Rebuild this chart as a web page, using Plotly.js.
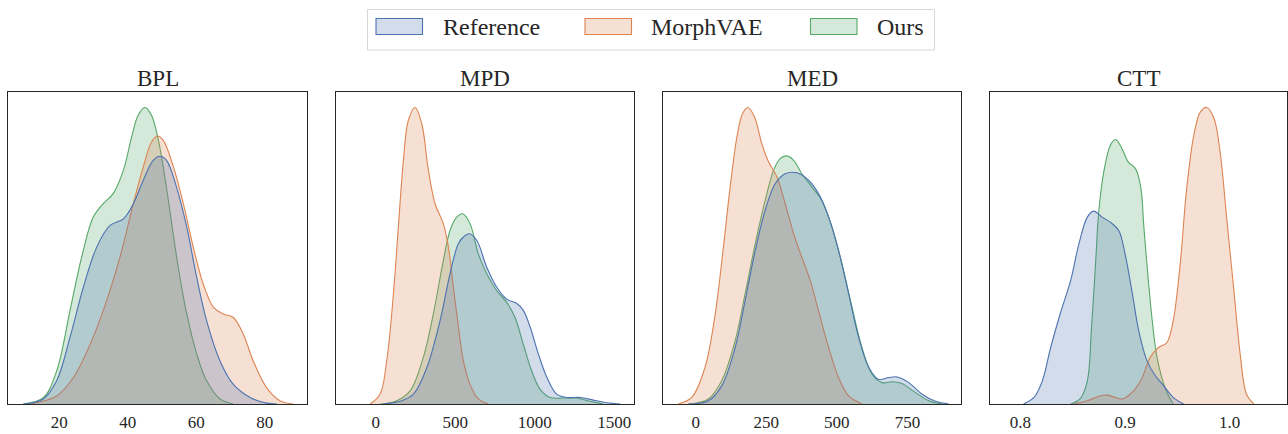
<!DOCTYPE html>
<html>
<head>
<meta charset="utf-8">
<script src="https://cdn.plot.ly/plotly-3.0.1.min.js"></script>
<style>html,body{margin:0;padding:0;background:#fff;}#chart{width:1288px;height:434px;}</style>
</head>
<body>
<div id="chart"></div>
<script>
// ---------------- DATA (relative density, panel peak = 100) ----------------
const seriesNames = ["Reference", "MorphVAE", "Ours"];
const panelTitles = ["BPL", "MPD", "MED", "CTT"];

// BPL
const bpl_ref_x = [9.5, 15.3, 19.2, 23.1, 27.0, 30.9, 34.8, 38.7, 41.6, 44.5, 47.4, 49.4, 51.3, 54.2, 57.2, 60.1, 63.0, 66.9, 70.8, 75.7, 80.5, 83.5];
const bpl_ref_y = [0, 1.7, 7.8, 22.4, 39.3, 52.8, 60.1, 62.3, 67.4, 75.3, 82.0, 83.4, 82.0, 73.0, 59.5, 42.6, 28.0, 14.5, 6.6, 2.2, 0.3, 0];
const bpl_mvae_x = [11.4, 19.2, 24.1, 29.0, 33.8, 37.7, 41.6, 44.5, 46.9, 48.6, 50.3, 53.3, 56.2, 59.1, 62.0, 65.0, 67.9, 70.8, 73.7, 76.6, 80.5, 84.4, 88.3];
const bpl_mvae_y = [0, 2.7, 8.9, 20.1, 34.8, 49.4, 67.4, 79.8, 88.2, 90.2, 88.8, 79.8, 67.4, 52.8, 40.4, 32.5, 30.3, 29.1, 23.5, 14.5, 5.5, 1.1, 0];
const bpl_ours_x = [9.5, 15.3, 19.2, 23.1, 26.5, 29.9, 32.8, 35.7, 38.7, 41.1, 43.0, 45.0, 46.9, 48.9, 50.8, 52.8, 54.7, 57.2, 60.1, 63.0, 66.9, 70.8];
const bpl_ours_y = [0, 2.1, 11.1, 31.4, 49.4, 62.9, 67.4, 70.8, 78.7, 89.9, 97.2, 99.8, 97.2, 88.8, 76.4, 60.7, 46.0, 30.3, 16.8, 7.8, 1.7, 0];

// MPD
const mpd_ref_x = [48, 153, 237, 321, 404, 467, 520, 562, 589, 635, 698, 761, 824, 887, 928, 971, 1023, 1076, 1138, 1201, 1285, 1369, 1453, 1537];
const mpd_ref_y = [0, 0.9, 3.3, 12.2, 28.0, 43.8, 54.0, 56.7, 57.3, 55.1, 46.0, 39.3, 35.3, 33.8, 31.5, 25.9, 16.8, 9.0, 3.3, 2.2, 2.2, 1.3, 0.4, 0];
const mpd_mvae_x = [-36, 27, 69, 111, 142, 174, 205, 247, 289, 331, 373, 425, 457, 488, 520, 551, 593, 645, 708];
const mpd_mvae_y = [0, 3.3, 14.5, 37.0, 59.5, 82.0, 95.5, 99.8, 94.4, 78.7, 67.4, 60.7, 52.8, 39.3, 25.9, 14.5, 6.6, 1.7, 0];
const mpd_ours_x = [27, 132, 216, 299, 362, 425, 467, 509, 547, 593, 645, 698, 761, 824, 876, 928, 981, 1033, 1096, 1180, 1264, 1348, 1432];
const mpd_ours_y = [0, 1.1, 4.4, 15.7, 30.3, 48.3, 58.4, 62.9, 64.0, 60.7, 50.5, 43.8, 38.1, 34.2, 29.1, 20.1, 11.1, 5.0, 2.2, 2.0, 2.0, 0.9, 0];

// MED
const med_ref_x = [-26, 45, 92, 140, 175, 211, 246, 282, 317, 359, 400, 435, 471, 506, 542, 577, 613, 648, 684, 714, 755, 802, 850, 897];
const med_ref_y = [0, 1.1, 6.1, 19.1, 34.8, 51.7, 65.2, 74.2, 77.5, 77.8, 75.3, 70.8, 62.9, 51.7, 37.1, 22.5, 12.4, 8.3, 8.9, 9.1, 7.2, 3.3, 0.9, 0];
const med_mvae_x = [-62, -14, 33, 69, 98, 122, 146, 166, 185, 208, 234, 258, 288, 317, 347, 376, 406, 435, 471, 506, 542, 589];
const med_mvae_y = [0, 2.2, 12.4, 30.3, 52.8, 73.0, 89.9, 97.8, 99.8, 96.7, 87.7, 81.5, 76.4, 67.4, 57.3, 49.4, 41.5, 31.4, 19.0, 8.9, 2.7, 0];
const med_ours_x = [-26, 45, 92, 140, 175, 211, 246, 276, 299, 323, 347, 376, 412, 447, 483, 518, 554, 589, 625, 660, 696, 731, 778, 826, 873];
const med_ours_y = [0, 1.7, 7.8, 21.4, 37.1, 54.0, 68.5, 78.7, 82.6, 83.5, 82.0, 77.5, 73.0, 68.5, 59.5, 47.2, 32.5, 19.0, 10.0, 7.2, 7.5, 6.9, 3.9, 1.1, 0];

// CTT
const ctt_ref_x = [0.803, 0.813, 0.821, 0.829, 0.838, 0.848, 0.856, 0.864, 0.870, 0.878, 0.886, 0.894, 0.900, 0.907, 0.913, 0.921, 0.929, 0.937, 0.946, 0.956];
const ctt_ref_y = [0, 2.2, 7.8, 19.1, 30.3, 41.5, 54.0, 62.9, 64.9, 62.9, 61.2, 58.4, 50.5, 37.1, 24.8, 14.5, 9.5, 6.1, 2.2, 0];
const ctt_mvae_x = [0.851, 0.864, 0.876, 0.883, 0.889, 0.897, 0.905, 0.915, 0.924, 0.932, 0.940, 0.946, 0.953, 0.959, 0.966, 0.972, 0.978, 0.985, 0.991, 0.997, 1.004, 1.010, 1.016, 1.023];
const ctt_mvae_y = [0, 1.1, 2.7, 3.0, 2.4, 1.7, 3.3, 7.8, 15.7, 19.0, 20.7, 28.0, 48.3, 73.0, 91.0, 98.3, 99.8, 96.1, 84.3, 62.9, 38.1, 16.8, 3.3, 0];
const ctt_ours_x = [0.848, 0.857, 0.864, 0.868, 0.872, 0.875, 0.880, 0.886, 0.891, 0.897, 0.903, 0.910, 0.915, 0.918, 0.922, 0.926, 0.930, 0.935, 0.940, 0.946];
const ctt_ours_y = [0, 1.7, 7.8, 25.9, 48.3, 65.2, 78.7, 87.1, 89.0, 86.0, 81.5, 79.2, 73.0, 59.5, 42.6, 28.0, 16.8, 9.0, 3.9, 0];

const tickVals = [[20, 40, 60, 80], [0, 500, 1000, 1500], [0, 250, 500, 750], [0.8, 0.9, 1.0]];
const tickText = [["20", "40", "60", "80"], ["0", "500", "1000", "1500"], ["0", "250", "500", "750"], ["0.8", "0.9", "1.0"]];

// ---------------- STYLE ----------------
const W = 1288, H = 434;
const lineColors = ["#4C72B0", "#DD8452", "#55A868"];
const fillColors = ["rgba(76,114,176,0.25)", "rgba(221,132,82,0.25)", "rgba(85,168,104,0.25)"];
const textColor = "#262626";
const serif = "Liberation Serif, Times New Roman, serif";

const panels = [
  {ref: [bpl_ref_x, bpl_ref_y], mvae: [bpl_mvae_x, bpl_mvae_y], ours: [bpl_ours_x, bpl_ours_y], range: [5.0, 92.3], px: [8, 307]},
  {ref: [mpd_ref_x, mpd_ref_y], mvae: [mpd_mvae_x, mpd_mvae_y], ours: [mpd_ours_x, mpd_ours_y], range: [-250, 1624], px: [336, 634]},
  {ref: [med_ref_x, med_ref_y], mvae: [med_mvae_x, med_mvae_y], ours: [med_ours_x, med_ours_y], range: [-116, 940], px: [663, 961]},
  {ref: [ctt_ref_x, ctt_ref_y], mvae: [ctt_mvae_x, ctt_mvae_y], ours: [ctt_ours_x, ctt_ours_y], range: [0.771, 1.055], px: [990, 1287.3]}
];
const plotTop = 92, plotBot = 404;
const px2x = p => p / W;
const px2y = p => 1 - p / H;

const traces = [];
const layout = {
  width: W, height: H,
  margin: {l: 0, r: 0, t: 0, b: 0},
  paper_bgcolor: "#ffffff", plot_bgcolor: "#ffffff",
  showlegend: false,
  font: {family: serif, color: textColor},
  shapes: [], annotations: []
};

panels.forEach((p, i) => {
  const n = i === 0 ? "" : String(i + 1);
  const xa = "x" + n, ya = "y" + n;
  // draw order: Ours, MorphVAE, Reference (first hue on top, as seaborn does)
  const order = [[2, p.ours], [1, p.mvae], [0, p.ref]];
  order.forEach(([k, d]) => {
    traces.push({
      type: "scatter", mode: "lines",
      x: d[0], y: d[1], xaxis: xa, yaxis: ya,
      name: seriesNames[k],
      line: {color: lineColors[k], width: 1.1, shape: "spline", smoothing: 1},
      fill: "tozeroy", fillcolor: fillColors[k],
      hoverinfo: "skip"
    });
  });
  layout["xaxis" + n] = {
    domain: [px2x(p.px[0]), Math.min(1, px2x(p.px[1]))],
    range: p.range, anchor: ya,
    showgrid: false, zeroline: false,
    showline: true, mirror: true, linecolor: textColor, linewidth: 1.25,
    ticks: "", tickvals: tickVals[i], ticktext: tickText[i],
    tickfont: {family: serif, size: 17, color: textColor},
    ticklabelstandoff: 2
  };
  layout["yaxis" + n] = {
    domain: [px2y(plotBot), px2y(plotTop)],
    range: [0, 105], anchor: xa,
    showgrid: false, zeroline: false,
    showline: true, mirror: true, linecolor: textColor, linewidth: 1.25,
    showticklabels: false, ticks: ""
  };
  layout.annotations.push({
    xref: "paper", yref: "paper",
    x: px2x((p.px[0] + p.px[1]) / 2), y: px2y(79),
    xanchor: "center", yanchor: "middle",
    text: panelTitles[i], showarrow: false,
    font: {family: serif, size: 23, color: textColor}
  });
});

// legend drawn with shapes + text
layout.shapes.push({
  type: "rect", xref: "paper", yref: "paper",
  x0: px2x(367.5), x1: px2x(934.5), y0: px2y(50), y1: px2y(9.5),
  line: {color: "#d6d6d6", width: 1}, fillcolor: "rgba(255,255,255,0.8)", layer: "above"
});
const iconLeft = [376, 585, 810.5];
const textLeft = [441, 649, 874.5];
seriesNames.forEach((nm, k) => {
  layout.shapes.push({
    type: "rect", xref: "paper", yref: "paper",
    x0: px2x(iconLeft[k]), x1: px2x(iconLeft[k] + 46.5), y0: px2y(34.5), y1: px2y(18.5),
    line: {color: lineColors[k], width: 1.1}, fillcolor: fillColors[k], layer: "above"
  });
  layout.annotations.push({
    xref: "paper", yref: "paper",
    x: px2x(textLeft[k]), y: px2y(27.5),
    xanchor: "left", yanchor: "middle", showarrow: false,
    text: nm, font: {family: serif, size: 24, color: textColor}
  });
});

Plotly.newPlot("chart", traces, layout, {staticPlot: true, displayModeBar: false});
</script>
</body>
</html>
